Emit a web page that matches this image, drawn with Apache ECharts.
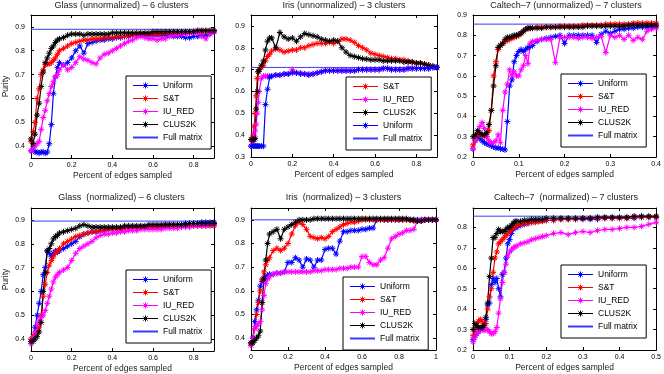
<!DOCTYPE html>
<html><head><meta charset="utf-8">
<script src="https://cdn.jsdelivr.net/npm/echarts@6/dist/echarts.min.js"></script>
<style>html,body{margin:0;padding:0;background:#fff}#c{width:664px;height:374px}</style>
</head><body><div id="c"></div>
<script>
// ---------- Tick labels ----------
const xTicks09 = [0, 0.2, 0.4, 0.6, 0.8];
const xTicks04 = [0, 0.1, 0.2, 0.3, 0.4];
const xTicks10 = [0, 0.2, 0.4, 0.6, 0.8, 1];
const xTicks05 = [0, 0.1, 0.2, 0.3, 0.4, 0.5];
const yTicks4to9 = [0.4, 0.5, 0.6, 0.7, 0.8, 0.9];
const yTicks3to9 = [0.3, 0.4, 0.5, 0.6, 0.7, 0.8, 0.9];
const yTicks2to9 = [0.2, 0.3, 0.4, 0.5, 0.6, 0.7, 0.8, 0.9];
const yTicks2to8 = [0.2, 0.3, 0.4, 0.5, 0.6, 0.7, 0.8];

const titles = [
  'Glass (unnormalized) \u2013 6 clusters',
  'Iris (unnormalized) \u2013 3 clusters',
  'Caltech\u20137 (unnormalized) \u2013 7 clusters',
  'Glass  (normalized) \u2013 6 clusters',
  'Iris  (normalized) \u2013 3 clusters',
  'Caltech\u20137  (normalized) \u2013 7 clusters'
];

// ---------- Panel 1: Glass (unnormalized) ----------
const glassU_x = [0,0.01,0.02,0.03,0.04,0.05,0.06,0.07,0.08,0.09,
  0.1,0.11,0.12,0.13,0.14,
  0.16,0.18,0.2,0.22,0.24,0.26,0.28,0.3,0.32,0.34,
  0.36,0.38,0.4,0.42,0.44,0.46,0.48,0.5,0.52,0.54,
  0.56,0.58,0.6,0.62,0.64,0.66,0.68,0.7,0.72,0.74,
  0.76,0.78,0.8,0.82,0.84,0.86,0.88,0.9];
const glassU_uniform = [0.38,0.39,0.375,0.375,0.37,0.375,0.375,0.37,0.375,0.41,
  0.49,0.62,0.69,0.73,0.75,
  0.74,0.75,0.77,0.80,0.82,0.79,0.83,0.835,0.84,0.845,
  0.845,0.85,0.85,0.855,0.855,0.86,0.86,0.865,0.865,0.865,
  0.865,0.865,0.865,0.865,0.865,0.865,0.865,0.86,0.86,0.86,
  0.855,0.855,0.86,0.86,0.865,0.865,0.87,0.88];
const glassU_st = [0.42,0.46,0.50,0.60,0.64,0.70,0.72,0.74,0.745,0.745,
  0.75,0.76,0.77,0.785,0.80,
  0.81,0.82,0.83,0.835,0.84,0.845,0.845,0.85,0.85,0.85,
  0.855,0.855,0.855,0.86,0.86,0.86,0.865,0.865,0.865,0.87,
  0.87,0.87,0.87,0.87,0.87,0.875,0.875,0.875,0.875,0.875,
  0.875,0.875,0.88,0.88,0.88,0.88,0.88,0.88];
const glassU_iured = [0.38,0.39,0.40,0.41,0.42,0.47,0.52,0.55,0.59,0.62,
  0.65,0.67,0.69,0.70,0.72,
  0.74,0.72,0.73,0.75,0.775,0.765,0.76,0.75,0.745,0.77,
  0.785,0.79,0.80,0.81,0.82,0.83,0.84,0.845,0.855,0.86,
  0.855,0.85,0.85,0.845,0.85,0.85,0.86,0.865,0.865,0.87,
  0.87,0.875,0.875,0.875,0.86,0.85,0.87,0.88];
const glassU_clus = [0.43,0.41,0.45,0.53,0.58,0.65,0.71,0.75,0.77,0.79,
  0.81,0.82,0.835,0.845,0.85,
  0.855,0.865,0.87,0.87,0.87,0.865,0.87,0.87,0.87,0.87,
  0.87,0.87,0.875,0.875,0.875,0.875,0.875,0.875,0.875,0.875,
  0.875,0.875,0.88,0.88,0.88,0.88,0.88,0.88,0.88,0.88,
  0.88,0.88,0.88,0.885,0.885,0.885,0.885,0.885];
const glassU_full = 0.89;

// ---------- Panel 2: Iris (unnormalized) ----------
const irisU_x = [0,0.01,0.015,0.02,0.025,0.03,0.035,0.04,0.05,0.06,
  0.07,0.08,0.09,0.1,
  0.12,0.14,0.16,0.18,0.2,0.22,0.24,0.26,0.28,0.3,
  0.32,0.34,0.36,0.38,0.4,0.42,0.44,0.46,0.48,0.5,
  0.52,0.54,0.56,0.58,0.6,0.62,0.64,0.66,0.68,0.7,
  0.72,0.74,0.76,0.78,0.8,0.82,0.84,0.86,0.88,0.9];
const irisU_st = [0.38,0.40,0.44,0.50,0.58,0.66,0.69,0.70,0.71,0.72,
  0.74,0.76,0.77,0.785,
  0.795,0.79,0.78,0.785,0.79,0.79,0.80,0.80,0.81,0.815,
  0.82,0.82,0.82,0.825,0.82,0.83,0.84,0.84,0.835,0.825,
  0.81,0.80,0.79,0.775,0.77,0.765,0.76,0.755,0.75,0.75,
  0.745,0.745,0.74,0.735,0.73,0.73,0.725,0.72,0.715,0.71];
const irisU_iured = [0.35,0.37,0.40,0.42,0.45,0.50,0.55,0.60,0.66,0.67,
  0.67,0.67,0.67,0.67,
  0.675,0.675,0.68,0.68,0.70,0.685,0.685,0.68,0.68,0.68,
  0.685,0.69,0.695,0.695,0.695,0.695,0.695,0.695,0.695,0.695,
  0.70,0.70,0.70,0.70,0.70,0.70,0.705,0.705,0.70,0.70,
  0.70,0.70,0.705,0.705,0.705,0.705,0.705,0.705,0.71,0.71];
const irisU_clus = [0.38,0.38,0.38,0.385,0.52,0.60,0.69,0.70,0.72,0.74,
  0.79,0.83,0.845,0.845,
  0.80,0.87,0.85,0.84,0.845,0.83,0.85,0.865,0.86,0.855,
  0.85,0.84,0.835,0.83,0.835,0.83,0.80,0.78,0.765,0.76,
  0.755,0.75,0.748,0.745,0.745,0.745,0.74,0.74,0.74,0.74,
  0.74,0.735,0.735,0.735,0.73,0.73,0.725,0.72,0.715,0.71];
const irisU_uniform = [0.35,0.35,0.35,0.35,0.35,0.35,0.35,0.35,0.35,0.35,
  0.54,0.61,0.665,0.67,
  0.675,0.675,0.68,0.68,0.685,0.685,0.68,0.68,0.675,0.68,
  0.685,0.69,0.695,0.695,0.695,0.695,0.695,0.695,0.695,0.695,
  0.70,0.70,0.70,0.70,0.70,0.70,0.705,0.705,0.70,0.70,
  0.70,0.70,0.705,0.705,0.705,0.705,0.705,0.705,0.71,0.71];
const irisU_full = 0.71;

// ---------- Panel 3: Caltech-7 (unnormalized) ----------
const caltechU_x = [0,0.005,0.01,0.015,0.02,0.025,0.03,0.035,0.04,0.045,
  0.05,0.055,0.06,0.065,0.07,0.075,0.08,0.085,0.09,0.095,
  0.1,0.105,0.11,0.115,0.12,0.125,0.13,
  0.14,0.15,0.16,0.17,0.18,0.19,0.2,0.21,0.22,0.23,
  0.24,0.25,0.26,0.27,0.28,0.29,0.3,0.31,0.32,0.33,
  0.34,0.35,0.36,0.37,0.38,0.39,0.4];
const caltechU_uniform = [0.24,0.28,0.30,0.29,0.28,0.27,0.265,0.26,0.255,0.25,
  0.245,0.245,0.24,0.24,0.235,0.375,0.55,0.58,0.67,0.70,
  0.72,0.73,0.72,0.73,0.74,0.745,0.75,
  0.77,0.78,0.785,0.79,0.795,0.80,0.76,0.80,0.80,0.80,
  0.80,0.80,0.80,0.765,0.805,0.82,0.81,0.82,0.83,0.83,
  0.835,0.835,0.84,0.84,0.84,0.84,0.845];
const caltechU_st = [0.26,0.29,0.31,0.31,0.31,0.30,0.30,0.33,0.43,0.60,
  0.67,0.73,0.75,0.76,0.77,0.775,0.78,0.785,0.79,0.795,
  0.80,0.81,0.82,0.83,0.835,0.835,0.835,
  0.84,0.84,0.84,0.84,0.84,0.845,0.845,0.845,0.845,0.845,
  0.85,0.85,0.85,0.85,0.85,0.855,0.855,0.855,0.855,0.855,
  0.855,0.86,0.86,0.86,0.86,0.86,0.86];
const caltechU_iured = [0.24,0.28,0.32,0.35,0.37,0.34,0.30,0.28,0.27,0.27,
  0.28,0.31,0.27,0.43,0.52,0.56,0.63,0.60,0.62,0.60,
  0.60,0.63,0.65,0.70,0.66,0.76,0.77,
  0.775,0.78,0.78,0.78,0.665,0.79,0.79,0.79,0.79,0.785,
  0.79,0.79,0.785,0.79,0.795,0.715,0.80,0.79,0.80,0.78,
  0.80,0.775,0.79,0.78,0.82,0.83,0.835];
const caltechU_clus = [0.30,0.31,0.33,0.32,0.31,0.31,0.32,0.36,0.43,0.55,
  0.65,0.74,0.75,0.76,0.78,0.79,0.79,0.795,0.80,0.80,
  0.805,0.81,0.82,0.83,0.835,0.835,0.835,
  0.835,0.835,0.84,0.84,0.84,0.84,0.84,0.84,0.84,0.84,
  0.84,0.845,0.845,0.845,0.845,0.845,0.845,0.845,0.845,0.845,
  0.85,0.85,0.85,0.85,0.85,0.85,0.85];
const caltechU_full = 0.855;

// ---------- Panel 4: Glass (normalized) ----------
const glassN_x = [0,0.01,0.02,0.03,0.04,0.05,0.06,0.07,0.08,0.09,
  0.1,0.11,0.12,0.13,0.14,
  0.16,0.18,0.2,0.22,0.24,0.26,0.28,0.3,0.32,0.34,
  0.36,0.38,0.4,0.42,0.44,0.46,0.48,0.5,0.52,0.54,
  0.56,0.58,0.6,0.62,0.64,0.66,0.68,0.7,0.72,0.74,
  0.76,0.78,0.8,0.82,0.84,0.86,0.88,0.9];
const glassN_uniform = [0.39,0.41,0.45,0.50,0.55,0.60,0.67,0.70,0.77,0.76,
  0.745,0.76,0.77,0.765,0.77,
  0.78,0.79,0.80,0.81,0.83,0.84,0.845,0.85,0.85,0.855,
  0.855,0.86,0.86,0.86,0.865,0.865,0.865,0.87,0.87,0.87,
  0.87,0.875,0.875,0.875,0.875,0.88,0.88,0.88,0.88,0.88,
  0.885,0.885,0.885,0.885,0.89,0.89,0.89,0.89];
const glassN_st = [0.40,0.41,0.42,0.43,0.45,0.50,0.58,0.63,0.68,0.71,
  0.73,0.745,0.76,0.77,0.78,
  0.80,0.81,0.82,0.83,0.835,0.84,0.845,0.85,0.85,0.855,
  0.855,0.86,0.86,0.86,0.86,0.865,0.865,0.865,0.865,0.87,
  0.87,0.87,0.87,0.87,0.87,0.875,0.875,0.875,0.875,0.875,
  0.875,0.875,0.875,0.875,0.875,0.875,0.875,0.875];
const glassN_iured = [0.38,0.41,0.43,0.46,0.48,0.49,0.50,0.52,0.55,0.58,
  0.61,0.64,0.66,0.67,0.68,
  0.69,0.70,0.73,0.76,0.78,0.79,0.80,0.81,0.825,0.835,
  0.84,0.84,0.845,0.845,0.85,0.85,0.855,0.855,0.855,0.86,
  0.86,0.86,0.86,0.86,0.86,0.865,0.865,0.865,0.865,0.87,
  0.87,0.87,0.875,0.875,0.875,0.875,0.88,0.88];
const glassN_clus = [0.39,0.39,0.40,0.41,0.43,0.47,0.60,0.68,0.77,0.78,
  0.80,0.82,0.83,0.835,0.845,
  0.85,0.855,0.86,0.865,0.875,0.88,0.875,0.87,0.87,0.87,
  0.87,0.87,0.87,0.87,0.87,0.875,0.875,0.875,0.875,0.875,
  0.875,0.88,0.88,0.88,0.88,0.88,0.88,0.88,0.88,0.88,
  0.88,0.885,0.885,0.885,0.885,0.885,0.885,0.885];
const glassN_full = 0.895;

// ---------- Panel 5: Iris (normalized) ----------
const irisN_x = [0,0.01,0.02,0.03,0.04,0.05,0.06,0.07,0.08,0.09,
  0.1,0.12,0.14,0.16,0.18,0.2,
  0.22,0.24,0.26,0.28,0.3,0.32,0.34,0.36,0.38,0.4,
  0.42,0.44,0.46,0.48,0.5,0.52,0.54,0.56,0.58,0.6,
  0.62,0.64,0.66,0.68,0.7,0.72,0.74,0.76,0.78,0.8,
  0.82,0.84,0.86,0.88,0.9,0.92,0.94,0.96,0.98,1];
const irisN_uniform = [0.38,0.40,0.47,0.52,0.56,0.62,0.64,0.65,0.66,0.665,
  0.67,0.67,0.675,0.675,0.68,0.72,
  0.72,0.74,0.73,0.70,0.735,0.73,0.70,0.73,0.73,0.775,
  0.78,0.78,0.755,0.81,0.85,0.85,0.855,0.855,0.855,0.86,
  0.86,0.865,0.865,0.90,0.90,0.90,0.90,0.90,0.90,0.90,
  0.90,0.90,0.90,0.90,0.90,0.90,0.90,0.90,0.90,0.90];
const irisN_st = [0.37,0.39,0.44,0.50,0.55,0.60,0.65,0.68,0.71,0.73,
  0.74,0.77,0.78,0.77,0.78,0.80,
  0.84,0.875,0.89,0.88,0.86,0.83,0.825,0.82,0.825,0.82,
  0.83,0.85,0.86,0.87,0.88,0.885,0.89,0.89,0.895,0.90,
  0.90,0.90,0.90,0.90,0.90,0.90,0.90,0.90,0.90,0.90,
  0.90,0.90,0.90,0.895,0.895,0.895,0.90,0.90,0.90,0.90];
const irisN_iured = [0.37,0.40,0.44,0.45,0.46,0.47,0.52,0.58,0.63,0.65,
  0.66,0.67,0.675,0.675,0.68,0.68,
  0.68,0.68,0.68,0.68,0.68,0.68,0.685,0.685,0.685,0.69,
  0.69,0.69,0.69,0.695,0.695,0.695,0.70,0.70,0.70,0.745,
  0.745,0.72,0.71,0.71,0.73,0.74,0.78,0.82,0.83,0.84,
  0.845,0.855,0.855,0.86,0.895,0.90,0.90,0.90,0.90,0.90];
const irisN_clus = [0.38,0.38,0.39,0.40,0.41,0.43,0.55,0.65,0.73,0.80,
  0.84,0.85,0.86,0.82,0.86,0.87,
  0.88,0.89,0.90,0.90,0.90,0.90,0.905,0.905,0.905,0.905,
  0.905,0.905,0.905,0.905,0.905,0.905,0.905,0.905,0.905,0.905,
  0.905,0.905,0.905,0.905,0.905,0.905,0.905,0.905,0.905,0.905,
  0.905,0.905,0.90,0.90,0.895,0.895,0.90,0.90,0.90,0.90];
const irisN_full = 0.90;

// ---------- Panel 6: Caltech-7 (normalized) ----------
const caltechN_x = [0,0.005,0.01,0.015,0.02,0.025,0.03,0.035,0.04,0.045,
  0.05,0.055,0.06,0.065,0.07,0.075,0.08,0.085,0.09,0.095,
  0.1,0.105,0.11,0.115,0.12,
  0.13,0.14,0.15,0.16,0.17,0.18,0.19,0.2,
  0.22,0.24,0.26,0.28,0.3,0.32,0.34,0.36,
  0.38,0.4,0.42,0.44,0.46,0.48,0.5];
const caltechN_uniform = [0.25,0.27,0.28,0.29,0.30,0.31,0.32,0.35,0.42,0.43,
  0.52,0.55,0.53,0.55,0.50,0.46,0.57,0.58,0.65,0.72,
  0.74,0.77,0.79,0.80,0.80,
  0.81,0.815,0.82,0.825,0.83,0.83,0.835,0.835,
  0.835,0.84,0.84,0.84,0.84,0.84,0.84,0.845,
  0.845,0.845,0.845,0.845,0.85,0.85,0.85];
const caltechN_st = [0.27,0.30,0.32,0.34,0.35,0.34,0.32,0.33,0.40,0.46,
  0.50,0.58,0.65,0.68,0.72,0.73,0.74,0.75,0.76,0.77,
  0.78,0.79,0.80,0.805,0.81,
  0.815,0.82,0.82,0.825,0.825,0.83,0.83,0.835,
  0.835,0.84,0.84,0.84,0.845,0.845,0.845,0.845,
  0.845,0.845,0.845,0.85,0.85,0.85,0.85];
const caltechN_iured = [0.24,0.26,0.28,0.29,0.30,0.30,0.295,0.30,0.30,0.29,
  0.28,0.28,0.29,0.31,0.38,0.45,0.53,0.58,0.62,0.66,
  0.68,0.69,0.70,0.705,0.71,
  0.72,0.725,0.73,0.74,0.745,0.75,0.755,0.76,
  0.77,0.775,0.765,0.775,0.78,0.775,0.785,0.79,
  0.79,0.795,0.80,0.80,0.805,0.815,0.825];
const caltechN_clus = [0.30,0.33,0.32,0.31,0.31,0.31,0.32,0.36,0.43,0.56,
  0.65,0.75,0.75,0.77,0.79,0.78,0.78,0.78,0.79,0.80,
  0.80,0.81,0.82,0.83,0.83,
  0.83,0.835,0.835,0.84,0.84,0.84,0.84,0.845,
  0.845,0.845,0.845,0.845,0.845,0.845,0.85,0.85,
  0.85,0.85,0.85,0.855,0.855,0.855,0.855];
const caltechN_full = 0.855;

// ---------- Build chart ----------
const orderA = ['Uniform','S&T','IU_RED','CLUS2K','Full matrix'];
const orderB = ['S&T','IU_RED','CLUS2K','Uniform','Full matrix'];
const COLORS = {'Uniform':'#0000ff','S&T':'#ff0000','IU_RED':'#ff00ff','CLUS2K':'#000000'};
const FULL_COLOR = '#3a3aff';
const STAR = 'path://M5,0L5,10M0,5L10,5M1.5,1.5L8.5,8.5M1.5,8.5L8.5,1.5';
// legend icon: line with an asterisk in the middle (bbox 25 x 6)
const LEGEND_STAR = 'path://M0,3L25,3M12.5,0L12.5,6M9.5,3L15.5,3M10.4,0.9L14.6,5.1M10.4,5.1L14.6,0.9';
const FONT = '"Liberation Sans", Arial, Helvetica, sans-serif';

const panels = [
  {title:titles[0], x:glassU_x, ys:{'Uniform':glassU_uniform,'S&T':glassU_st,'IU_RED':glassU_iured,'CLUS2K':glassU_clus}, full:glassU_full, order:orderA, xr:[0,0.9], yr:[0.35,0.95], xt:xTicks09, yt:yTicks4to9},
  {title:titles[1], x:irisU_x, ys:{'Uniform':irisU_uniform,'S&T':irisU_st,'IU_RED':irisU_iured,'CLUS2K':irisU_clus}, full:irisU_full, order:orderB, xr:[0,0.9], yr:[0.3,0.95], xt:xTicks09, yt:yTicks3to9},
  {title:titles[2], x:caltechU_x, ys:{'Uniform':caltechU_uniform,'S&T':caltechU_st,'IU_RED':caltechU_iured,'CLUS2K':caltechU_clus}, full:caltechU_full, order:orderA, xr:[0,0.4], yr:[0.2,0.9], xt:xTicks04, yt:yTicks2to9},
  {title:titles[3], x:glassN_x, ys:{'Uniform':glassN_uniform,'S&T':glassN_st,'IU_RED':glassN_iured,'CLUS2K':glassN_clus}, full:glassN_full, order:orderA, xr:[0,0.9], yr:[0.35,0.95], xt:xTicks09, yt:yTicks4to9},
  {title:titles[4], x:irisN_x, ys:{'Uniform':irisN_uniform,'S&T':irisN_st,'IU_RED':irisN_iured,'CLUS2K':irisN_clus}, full:irisN_full, order:orderA, xr:[0,1], yr:[0.35,0.95], xt:xTicks10, yt:yTicks4to9},
  {title:titles[5], x:caltechN_x, ys:{'Uniform':caltechN_uniform,'S&T':caltechN_st,'IU_RED':caltechN_iured,'CLUS2K':caltechN_clus}, full:caltechN_full, order:orderA, xr:[0,0.5], yr:[0.2,0.895], xt:xTicks05, yt:yTicks2to8}
];

const layout = [
  {grid:{left:29,top:15,width:185,height:143}, legend:{left:126,top:76}, titleTop:1, yName:'Purity'},
  {grid:{left:251,top:15,width:186,height:142}, legend:{left:346,top:77}, titleTop:1, yName:''},
  {grid:{left:473,top:15,width:186,height:142}, legend:{left:561,top:74}, titleTop:1, yName:''},
  {grid:{left:29,top:208,width:185,height:143}, legend:{left:126,top:270}, titleTop:193, yName:'Purity'},
  {grid:{left:251,top:208,width:185,height:142}, legend:{left:343,top:277}, titleTop:193, yName:''},
  {grid:{left:473,top:208,width:186,height:142}, legend:{left:561,top:265}, titleTop:193, yName:''}
];

const option = {animation:false, backgroundColor:'#fff', title:[], grid:[], xAxis:[], yAxis:[], legend:[], series:[]};
const fmt = v => String(Math.round(v*100)/100);

panels.forEach((p, i) => {
  const L = layout[i];
  option.grid.push(Object.assign({show:false, containLabel:false}, L.grid));
  option.title.push({text:p.title, left:L.grid.left + L.grid.width/2, top:L.titleTop, textAlign:'center', padding:0,
    textStyle:{fontSize:9, fontWeight:'normal', color:'#222', fontFamily:FONT}});
  const tick = vals => ({show:true, inside:true, length:3, customValues:vals, lineStyle:{color:'#000', width:1}});
  const line = {show:true, onZero:false, lineStyle:{color:'#000', width:1}};
  option.xAxis.push({gridIndex:i, type:'value', position:'bottom', min:p.xr[0], max:p.xr[1],
    axisLine:line, axisTick:tick(p.xt), splitLine:{show:false},
    axisLabel:{show:true, customValues:p.xt, margin:4, fontSize:7, color:'#000', fontFamily:FONT, formatter:fmt},
    name:'Percent of edges sampled', nameLocation:'middle', nameGap:13,
    nameTextStyle:{fontSize:8.5, color:'#222', fontFamily:FONT}});
  option.xAxis.push({gridIndex:i, type:'value', position:'top', min:p.xr[0], max:p.xr[1],
    axisLine:line, axisTick:tick(p.xt), splitLine:{show:false}, axisLabel:{show:false, customValues:p.xt}});
  option.yAxis.push({gridIndex:i, type:'value', position:'left', min:p.yr[0], max:p.yr[1],
    axisLine:line, axisTick:tick(p.yt), splitLine:{show:false},
    axisLabel:{show:true, customValues:p.yt, margin:6, fontSize:7, color:'#000', fontFamily:FONT, formatter:fmt},
    name:L.yName, nameLocation:'middle', nameGap:21, nameRotate:90,
    nameTextStyle:{fontSize:8.5, color:'#222', fontFamily:FONT}});
  option.yAxis.push({gridIndex:i, type:'value', position:'right', min:p.yr[0], max:p.yr[1],
    axisLine:line, axisTick:tick(p.yt), splitLine:{show:false}, axisLabel:{show:false, customValues:p.yt}});

  option.series.push({type:'line', name:'Full matrix', xAxisIndex:2*i, yAxisIndex:2*i,
    data:[[p.xr[0], p.full],[p.xr[1], p.full]], symbol:'none',
    lineStyle:{color:FULL_COLOR, width:1}, itemStyle:{color:FULL_COLOR}, emphasis:{disabled:true}, z:1});
  p.order.forEach(name => {
    if (name === 'Full matrix') return;
    const c = COLORS[name];
    const ys = p.ys[name];
    option.series.push({type:'line', name:name, xAxisIndex:2*i, yAxisIndex:2*i,
      data:p.x.map((x,k) => [x, ys[k]]), symbol:STAR, symbolSize:6, showSymbol:true,
      lineStyle:{color:c, width:1.2}, itemStyle:{color:c, borderColor:c, borderWidth:1},
      emphasis:{disabled:true}, z:2});
  });
  option.legend.push({orient:'vertical', left:L.legend.left, top:L.legend.top,
    itemWidth:25, itemHeight:6, itemGap:4, padding:[5,9,7,6],
    borderColor:'#000', borderWidth:1, backgroundColor:'#fff', selectedMode:false,
    textStyle:{fontSize:8.5, color:'#000', fontFamily:FONT},
    data:p.order.map(n => n === 'Full matrix'
      ? {name:n, itemStyle:{opacity:0}}
      : {name:n, icon:LEGEND_STAR, itemStyle:{color:COLORS[n], borderColor:COLORS[n], borderWidth:1}})});
});

const chart = echarts.init(document.getElementById('c'), null, {renderer:'canvas', width:664, height:374});
chart.setOption(option);
</script></body></html>
